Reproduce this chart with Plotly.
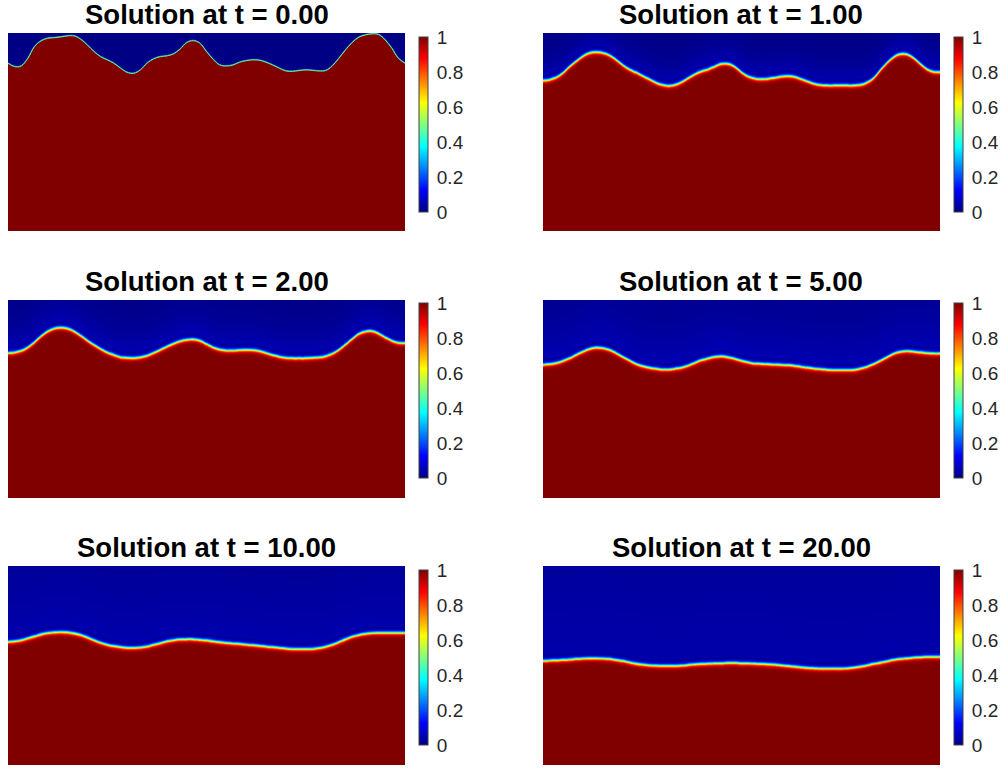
import numpy as np
import plotly.graph_objects as go

# ---- data: interface height (fraction of domain height)
# sampled at 61 evenly spaced x positions across each panel
time_labels = ["0.00", "1.00", "2.00", "5.00", "10.00", "20.00"]

h_t0 = [0.847, 0.830, 0.833, 0.872, 0.931, 0.960, 0.973, 0.976, 0.980, 0.985,
        0.985, 0.968, 0.939, 0.906, 0.880, 0.864, 0.847, 0.822, 0.801, 0.796,
        0.813, 0.847, 0.869, 0.880, 0.884, 0.894, 0.918, 0.951, 0.961, 0.948,
        0.906, 0.867, 0.838, 0.833, 0.838, 0.852, 0.860, 0.864, 0.862, 0.852,
        0.838, 0.822, 0.808, 0.806, 0.810, 0.813, 0.811, 0.808, 0.810, 0.833,
        0.872, 0.914, 0.951, 0.978, 0.990, 0.995, 0.992, 0.965, 0.923, 0.872, 0.847]
h_t1 = [0.758, 0.763, 0.774, 0.796, 0.827, 0.855, 0.880, 0.897, 0.902, 0.899,
        0.887, 0.864, 0.838, 0.816, 0.800, 0.783, 0.766, 0.749, 0.737, 0.732,
        0.737, 0.751, 0.771, 0.791, 0.805, 0.816, 0.830, 0.843, 0.843, 0.827,
        0.800, 0.779, 0.769, 0.766, 0.768, 0.773, 0.779, 0.781, 0.778, 0.766,
        0.754, 0.742, 0.736, 0.734, 0.734, 0.734, 0.734, 0.734, 0.737, 0.749,
        0.771, 0.810, 0.847, 0.877, 0.892, 0.891, 0.872, 0.842, 0.816, 0.803, 0.801]
h_t2 = [0.731, 0.734, 0.742, 0.759, 0.785, 0.815, 0.840, 0.855, 0.859, 0.855,
        0.840, 0.818, 0.793, 0.771, 0.751, 0.734, 0.721, 0.710, 0.707, 0.705,
        0.709, 0.717, 0.731, 0.746, 0.763, 0.778, 0.790, 0.798, 0.800, 0.793,
        0.776, 0.759, 0.749, 0.744, 0.744, 0.746, 0.747, 0.746, 0.741, 0.731,
        0.721, 0.712, 0.707, 0.705, 0.705, 0.705, 0.707, 0.709, 0.715, 0.727,
        0.747, 0.773, 0.801, 0.827, 0.840, 0.842, 0.830, 0.810, 0.793, 0.783, 0.781]
h_t5 = [0.672, 0.675, 0.680, 0.690, 0.704, 0.721, 0.737, 0.751, 0.758, 0.756,
        0.747, 0.731, 0.712, 0.694, 0.677, 0.665, 0.657, 0.652, 0.648, 0.648,
        0.652, 0.658, 0.668, 0.682, 0.695, 0.705, 0.712, 0.714, 0.710, 0.702,
        0.692, 0.684, 0.678, 0.677, 0.675, 0.673, 0.672, 0.670, 0.667, 0.662,
        0.657, 0.653, 0.650, 0.646, 0.645, 0.645, 0.645, 0.646, 0.653, 0.662,
        0.675, 0.692, 0.710, 0.727, 0.737, 0.741, 0.739, 0.734, 0.731, 0.729, 0.729]
h_t10 = [0.618, 0.620, 0.625, 0.635, 0.645, 0.655, 0.662, 0.665, 0.667, 0.665,
         0.660, 0.652, 0.640, 0.626, 0.613, 0.603, 0.596, 0.591, 0.588, 0.588,
         0.589, 0.594, 0.603, 0.611, 0.620, 0.626, 0.630, 0.631, 0.631, 0.628,
         0.625, 0.620, 0.616, 0.613, 0.609, 0.608, 0.604, 0.601, 0.598, 0.594,
         0.591, 0.588, 0.584, 0.582, 0.581, 0.581, 0.582, 0.586, 0.593, 0.603,
         0.616, 0.630, 0.643, 0.652, 0.658, 0.662, 0.663, 0.663, 0.663, 0.663, 0.663]
h_t20 = [0.522, 0.524, 0.525, 0.527, 0.529, 0.532, 0.534, 0.535, 0.535, 0.534,
         0.532, 0.527, 0.522, 0.515, 0.508, 0.503, 0.500, 0.498, 0.497, 0.497,
         0.497, 0.498, 0.502, 0.505, 0.507, 0.508, 0.510, 0.510, 0.512, 0.512,
         0.510, 0.510, 0.508, 0.507, 0.505, 0.503, 0.500, 0.497, 0.493, 0.490,
         0.487, 0.485, 0.483, 0.483, 0.483, 0.483, 0.485, 0.488, 0.493, 0.500,
         0.507, 0.513, 0.520, 0.527, 0.532, 0.535, 0.539, 0.540, 0.542, 0.542, 0.542]

heights = [h_t0, h_t1, h_t2, h_t5, h_t10, h_t20]

# interface half-width (pixels) and faint diffuse tail above the interface
interface_w_px = [1.2, 2.3, 2.3, 2.3, 2.3, 2.3]
band_offsets_px = [
    [0.5, 0.0],
    list(np.arange(5.5, -5.5 - 1e-9, -0.5)),
] 
tail_amp = [0.0, 0.07, 0.065, 0.055, 0.045, 0.04]
tail_len = [1.0, 0.08, 0.12, 0.25, 0.5, 1.0]

colorbar_ticks = [0, 0.2, 0.4, 0.6, 0.8, 1]
colorbar_ticktext = ["0", "0.2", "0.4", "0.6", "0.8", "1"]

# ---- grid for the background field
x = np.linspace(0, 2, len(h_t0))
y = np.linspace(0, 1, 200)
PX = 1.0 / 198.0  # one pixel in data units (panel is ~198 px tall)

def background(h, A, L):
    d = y[:, None] - np.asarray(h)[None, :]
    return (A * np.exp(-np.clip(d, 0, None) / L)).astype(np.float32)

jet_stops = [0.0, 0.125, 0.375, 0.625, 0.875, 1.0]
jet_rgb = [(0, 0, 132), (0, 0, 255), (0, 255, 255), (255, 255, 0), (255, 0, 0), (128, 0, 0)]
jet = [[s, "rgb(%d,%d,%d)" % c] for s, c in zip(jet_stops, jet_rgb)]

def jet_color(v):
    v = min(max(v, 0.0), 1.0)
    ch = [int(round(np.interp(v, jet_stops, [c[k] for c in jet_rgb]))) for k in range(3)]
    return "rgb(%d,%d,%d)" % tuple(ch)

W, Hpx = 1008, 771
col_x = [(8, 405), (543, 940)]
row_y = [(33, 231), (300, 498), (566, 765)]
cb_x = [419, 954]
cb_top = [37, 303, 570]
CB_LEN, CB_THICK = 175, 9

font_family = "Liberation Sans, Arial, Helvetica, sans-serif"

fig = go.Figure()
annotations = []
shapes = []
layout_axes = {}
for i, h in enumerate(heights):
    r, c = divmod(i, 2)
    k = i + 1
    xs = "" if k == 1 else str(k)
    xa, ya = "x" + xs, "y" + xs
    x0, x1 = col_x[c]
    y0, y1 = row_y[r]
    xdom = [x0 / W, x1 / W]
    ydom = [1 - y1 / Hpx, 1 - y0 / Hpx]
    harr = np.asarray(h)

    # background field (upper phase with faint diffuse glow) + colour bar
    fig.add_trace(go.Heatmap(
        z=background(h, tail_amp[i], tail_len[i]),
        x=x, y=y, colorscale=jet, zmin=0, zmax=1, zsmooth="best",
        xaxis=xa, yaxis=ya, hoverinfo="skip",
        colorbar=dict(
            x=cb_x[c] / W, xanchor="left", xref="paper", xpad=0,
            y=1 - cb_top[r] / Hpx, yanchor="top", yref="paper", ypad=0,
            len=CB_LEN, lenmode="pixels", thickness=CB_THICK, thicknessmode="pixels",
            outlinewidth=1, outlinecolor="#404040",
            tickmode="array", tickvals=colorbar_ticks, ticktext=colorbar_ticktext,
            ticks="outside", ticklen=5, tickwidth=1, tickcolor="rgba(0,0,0,0)",
            tickfont=dict(family=font_family, size=19, color="#262626"),
        ),
    ))
    # small inside tick marks on the colour bar (right edge)
    for v in colorbar_ticks[1:-1]:
        ty = 1 - (cb_top[r] + (1 - v) * CB_LEN) / Hpx
        shapes.append(dict(type="line", xref="paper", yref="paper",
                           x0=(cb_x[c] + CB_THICK - 2.5) / W, x1=(cb_x[c] + CB_THICK) / W,
                           y0=ty, y1=ty, line=dict(color="#262626", width=1)))
    # lower phase (value 1)
    fig.add_trace(go.Scatter(
        x=x, y=harr, mode="lines", line=dict(width=0, shape="spline", smoothing=1),
        fill="tozeroy", fillcolor=jet_color(1.0), xaxis=xa, yaxis=ya,
        hoverinfo="skip", showlegend=False,
    ))
    # diffuse interface band, coloured by the tanh profile value
    wpx = interface_w_px[i]
    offsets = band_offsets_px[0] if i == 0 else band_offsets_px[1]
    lw = 0.9 if i == 0 else 1.1
    for dpx in offsets:
        val = 0.5 * (1 - np.tanh(dpx / wpx))
        fig.add_trace(go.Scatter(
            x=x, y=harr + dpx * PX, mode="lines",
            line=dict(width=lw, color=jet_color(val), shape="spline", smoothing=1),
            xaxis=xa, yaxis=ya, hoverinfo="skip", showlegend=False,
        ))

    layout_axes["xaxis" + xs] = dict(domain=xdom, range=[0, 2], visible=False,
                                     anchor=ya, fixedrange=True)
    layout_axes["yaxis" + xs] = dict(domain=ydom, range=[0, 1], visible=False,
                                     anchor=xa, fixedrange=True)
    annotations.append(dict(
        text="<b>Solution at t = %s</b>" % time_labels[i],
        x=(xdom[0] + xdom[1]) / 2, y=ydom[1], xref="paper", yref="paper",
        xanchor="center", yanchor="bottom", yshift=1, showarrow=False,
        height=28, valign="bottom",
        font=dict(family=font_family, size=27.5, color="#000000"),
    ))

fig.update_layout(
    width=W, height=Hpx,
    margin=dict(l=0, r=0, t=0, b=0),
    paper_bgcolor="white", plot_bgcolor="white",
    annotations=annotations, shapes=shapes,
    showlegend=False,
    **layout_axes,
)

fig.write_html("out.html")
